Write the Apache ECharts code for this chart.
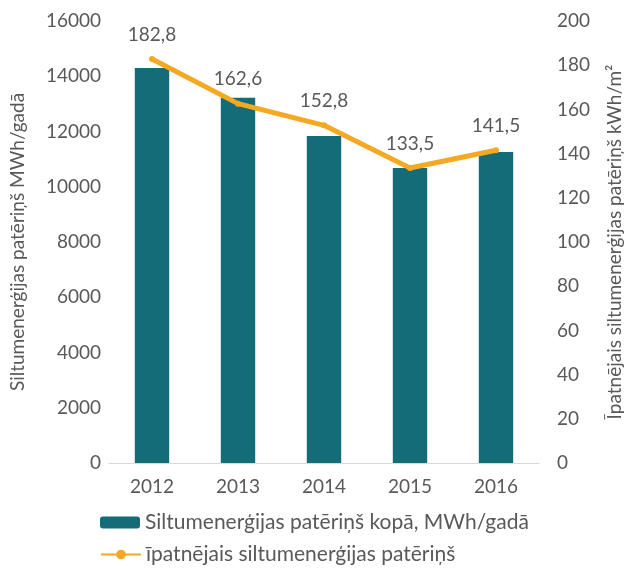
<!DOCTYPE html>
<html>
<head>
<meta charset="utf-8">
<script src="https://cdn.jsdelivr.net/npm/echarts@6/dist/echarts.min.js"></script>
<style>
  html, body { margin: 0; padding: 0; background: #fff; }
  #chart { width: 632px; height: 568px; }
</style>
</head>
<body>
<div id="chart"></div>
<script>
const years = ['2012', '2013', '2014', '2015', '2016']
const totalMWh = [14300, 13220, 11840, 10680, 11260]
const specificKWh = [182.8, 162.6, 152.8, 133.5, 141.5]

const barName = 'Siltumenerģijas patēriņš kopā, MWh/gadā'
const lineName = 'īpatnējais siltumenerģijas patēriņš'

const textColor = '#595959'
const fontFam = 'Lato, "Open Sans", sans-serif'

const chart = echarts.init(document.getElementById('chart'))

// two separate legends, one row each
const legendBase = {
  left: 100,
  itemWidth: 40,
  itemHeight: 12,
  itemGap: 4,
  padding: 0,
  textStyle: { fontSize: 21, color: textColor, fontFamily: fontFam }
}

const options = {
  animation: false,
  textStyle: { fontFamily: fontFam, color: textColor },
  grid: { left: 104, right: 80, top: 21, bottom: 105, containLabel: false },
  legend: [
    Object.assign({}, legendBase, { top: 512, data: [barName] }),
    Object.assign({}, legendBase, { top: 544, data: [lineName] })
  ],
  xAxis: {
    type: 'category',
    data: years,
    axisTick: { show: false },
    axisLine: { lineStyle: { color: '#d9d9d9', width: 1 } },
    axisLabel: { fontSize: 19, color: textColor, margin: 14 }
  },
  yAxis: [
    {
      type: 'value',
      min: 0,
      max: 16000,
      interval: 2000,
      name: 'Siltumenerģijas patēriņš MWh/gadā',
      nameLocation: 'middle',
      nameGap: 82,
      nameTextStyle: { fontSize: 19, color: textColor },
      axisLine: { show: false },
      axisTick: { show: false },
      splitLine: { show: false },
      axisLabel: { fontSize: 19, color: textColor, margin: 8, formatter: v => String(v) }
    },
    {
      type: 'value',
      min: 0,
      max: 200,
      interval: 20,
      name: 'Īpatnējais siltumenerģijas patēriņš kWh/m²',
      nameLocation: 'middle',
      nameGap: 66,
      nameTextStyle: { fontSize: 19, color: textColor },
      axisLine: { show: false },
      axisTick: { show: false },
      splitLine: { show: false },
      axisLabel: { fontSize: 19, color: textColor, margin: 18 }
    }
  ],
  series: [
    {
      name: barName,
      type: 'bar',
      data: totalMWh,
      barWidth: '40%',
      itemStyle: { color: '#136c77' }
    },
    {
      name: lineName,
      type: 'line',
      yAxisIndex: 1,
      data: specificKWh,
      symbol: 'circle',
      symbolSize: 6,
      lineStyle: { color: '#f5a821', width: 5 },
      itemStyle: { color: '#f5a821' },
      label: {
        show: true,
        position: 'top',
        distance: 12,
        fontSize: 19,
        color: textColor,
        formatter: p => p.value.toFixed(1).replace('.', ',')
      }
    }
  ]
}

chart.setOption(options)
</script>
</body>
</html>
